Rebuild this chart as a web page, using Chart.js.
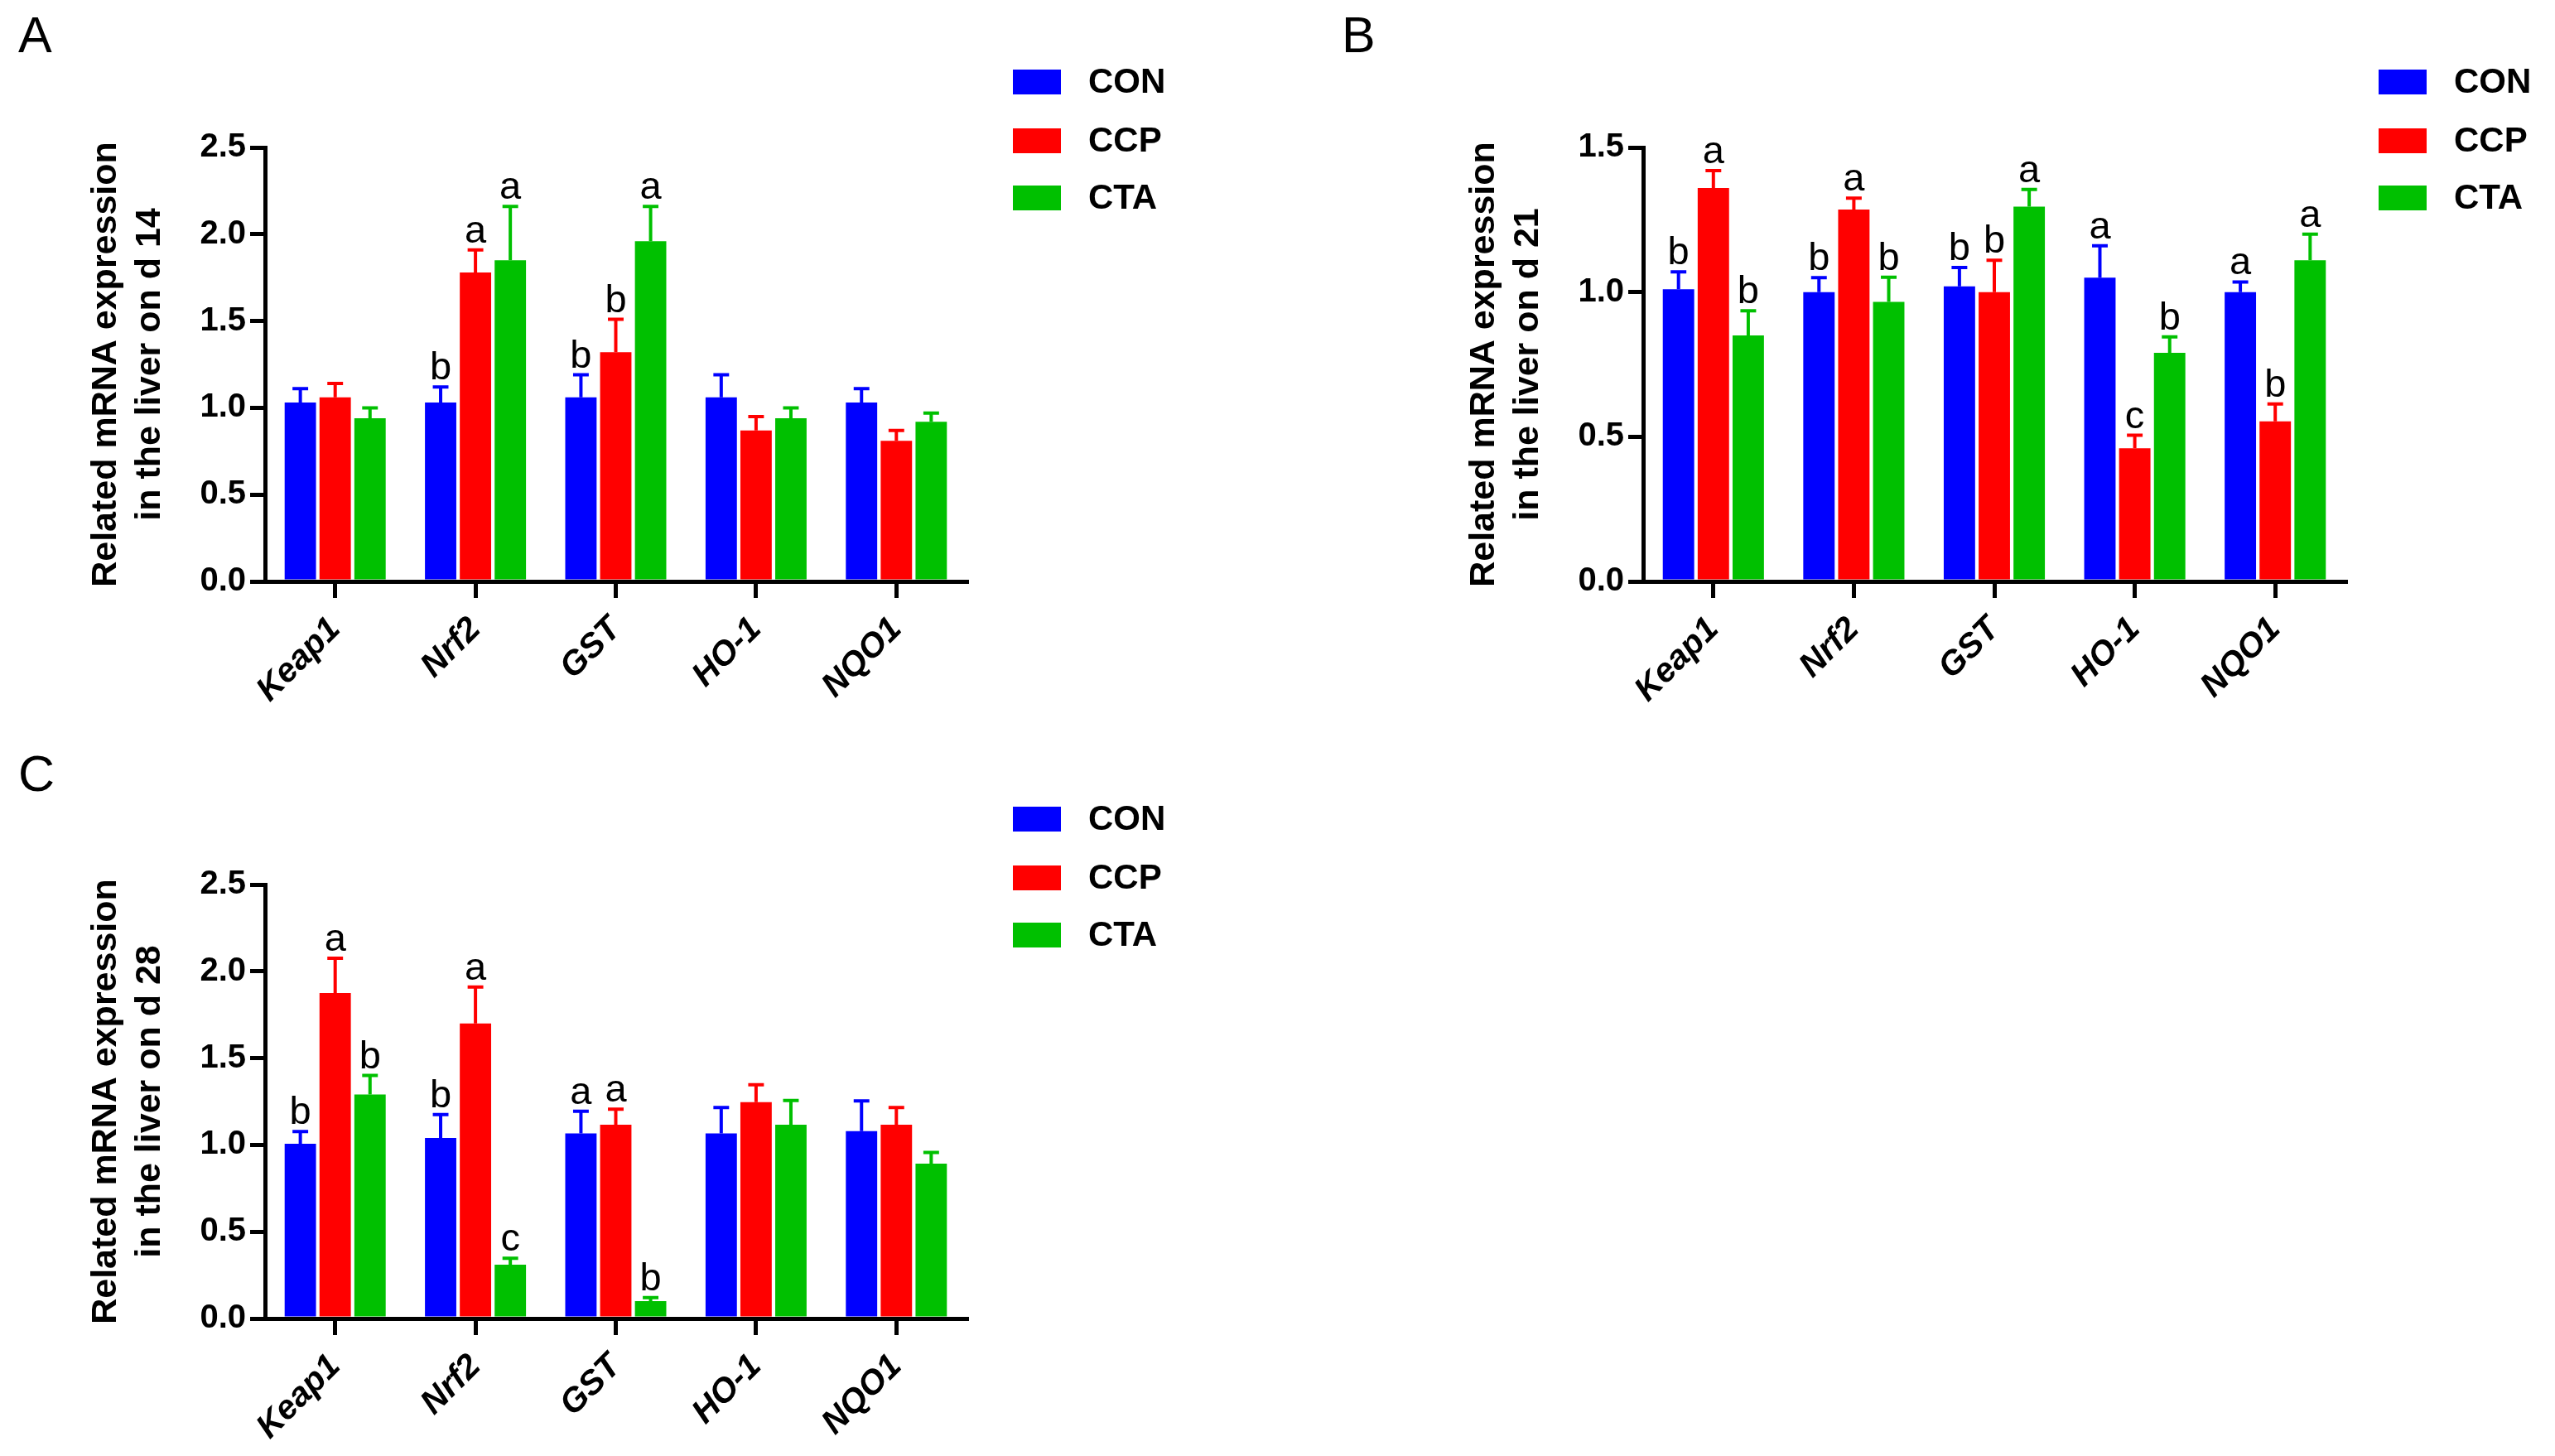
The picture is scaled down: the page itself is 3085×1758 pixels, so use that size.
<!DOCTYPE html>
<html>
<head>
<meta charset="utf-8">
<script src="https://cdn.jsdelivr.net/npm/chart.js@4/dist/chart.umd.min.js"></script>
<style>
html,body{margin:0;padding:0;background:#fff;}
body{width:3085px;height:1758px;position:relative;overflow:hidden;}
canvas{position:absolute;}
.tag{position:absolute;font-family:'Liberation Sans',Arial,sans-serif;font-size:61px;line-height:1;color:#000;}
</style>
</head>
<body>
<div class="tag" style="left:22px;top:12px">A</div>
<div class="tag" style="left:1620px;top:12px">B</div>
<div class="tag" style="left:22px;top:904px">C</div>
<canvas id="chartA" width="1540" height="880" style="left:0;top:0"></canvas>
<canvas id="chartB" width="1540" height="880" style="left:1545px;top:0"></canvas>
<canvas id="chartC" width="1540" height="878" style="left:0;top:880px"></canvas>
<script>
// genes and groups
const genes = ['Keap1', 'Nrf2', 'GST', 'HO-1', 'NQO1'];
const groups = ['CON', 'CCP', 'CTA'];
const colors = ['#0000FF', '#FF0000', '#00C000'];

// d 14
const d14Con = [1.03, 1.03, 1.06, 1.06, 1.03];
const d14Ccp = [1.06, 1.78, 1.32, 0.87, 0.81];
const d14Cta = [0.94, 1.85, 1.96, 0.94, 0.92];
const d14ConErr = [0.08, 0.09, 0.13, 0.13, 0.08];
const d14CcpErr = [0.08, 0.13, 0.19, 0.08, 0.06];
const d14CtaErr = [0.06, 0.31, 0.20, 0.06, 0.05];
const d14ConSig = ['', 'b', 'b', '', ''];
const d14CcpSig = ['', 'a', 'b', '', ''];
const d14CtaSig = ['', 'a', 'a', '', ''];

// d 21
const d21Con = [1.01, 1.00, 1.02, 1.05, 1.00];
const d21Ccp = [1.36, 1.285, 1.00, 0.46, 0.553];
const d21Cta = [0.85, 0.966, 1.295, 0.79, 1.11];
const d21ConErr = [0.06, 0.05, 0.065, 0.11, 0.035];
const d21CcpErr = [0.06, 0.04, 0.11, 0.045, 0.06];
const d21CtaErr = [0.085, 0.085, 0.06, 0.055, 0.09];
const d21ConSig = ['b', 'b', 'b', 'a', 'a'];
const d21CcpSig = ['a', 'a', 'b', 'c', 'b'];
const d21CtaSig = ['b', 'b', 'a', 'b', 'a'];

// d 28
const d28Con = [1.007, 1.04, 1.066, 1.066, 1.079];
const d28Ccp = [1.875, 1.70, 1.116, 1.247, 1.116];
const d28Cta = [1.29, 0.31, 0.10, 1.116, 0.892];
const d28ConErr = [0.07, 0.135, 0.128, 0.15, 0.175];
const d28CcpErr = [0.20, 0.21, 0.09, 0.10, 0.10];
const d28CtaErr = [0.11, 0.037, 0.02, 0.14, 0.065];
const d28ConSig = ['b', 'b', 'a', '', ''];
const d28CcpSig = ['a', 'a', 'a', '', ''];
const d28CtaSig = ['b', 'c', 'b', '', ''];

const FONT = "'Liberation Sans', Arial, sans-serif";

// error bars, letters and legend
const extras = {
    id: 'extras',
    afterDatasetsDraw(chart) {
        const ctx = chart.ctx;
        const y = chart.scales.y;
        chart.data.datasets.forEach((ds, i) => {
            const meta = chart.getDatasetMeta(i);
            meta.data.forEach((bar, j) => {
                const top = y.getPixelForValue(ds.data[j] + ds.errs[j]);
                const cap = bar.width * 0.25;
                ctx.save();
                ctx.strokeStyle = ds.backgroundColor;
                ctx.lineWidth = 4;
                ctx.beginPath();
                ctx.moveTo(bar.x, bar.y);
                ctx.lineTo(bar.x, top);
                ctx.moveTo(bar.x - cap, top);
                ctx.lineTo(bar.x + cap, top);
                ctx.stroke();
                if (ds.sig[j]) {
                    ctx.fillStyle = '#000';
                    ctx.font = '47px ' + FONT;
                    ctx.textAlign = 'center';
                    ctx.textBaseline = 'alphabetic';
                    ctx.fillText(ds.sig[j], bar.x, top - 9);
                }
                ctx.restore();
            });
        });
    },
    afterDraw(chart) {
        const ctx = chart.ctx;
        const area = chart.chartArea;
        const rows = [-79, -8, 61];
        const x0 = area.right + chart.options.plugins.extras.dx;
        chart.data.datasets.forEach((ds, i) => {
            const cy = area.top + rows[i];
            ctx.save();
            ctx.fillStyle = ds.backgroundColor;
            ctx.fillRect(x0, cy - 15, 58, 30);
            ctx.fillStyle = '#000';
            ctx.font = 'bold 42px ' + FONT;
            ctx.textAlign = 'left';
            ctx.textBaseline = 'middle';
            ctx.fillText(ds.label, x0 + 91, cy + 1);
            ctx.restore();
        });
    }
};

function makePanel(id, day, ymax, vals, errs, sigs, pad, legendDx) {
    const ctx = document.getElementById(id).getContext('2d');
    return new Chart(ctx, {
        type: 'bar',
        data: {
            labels: genes,
            datasets: groups.map((g, i) => ({
                label: g,
                data: vals[i],
                errs: errs[i],
                sig: sigs[i],
                backgroundColor: colors[i],
                barPercentage: 0.9,
                categoryPercentage: 0.745
            }))
        },
        options: {
            responsive: false,
            animation: false,
            devicePixelRatio: 1,
            layout: { padding: pad },
            plugins: {
                legend: { display: false },
                tooltip: { enabled: false },
                extras: { dx: legendDx }
            },
            scales: {
                x: {
                    afterFit: s => { s.height = pad.xh; },
                    border: { display: true, color: '#000', width: 5 },
                    grid: { drawOnChartArea: false, offset: false, color: '#000', lineWidth: 5, tickLength: 20 },
                    ticks: {
                        color: '#000',
                        font: { family: FONT, size: 41, weight: 'bold', style: 'italic' },
                        minRotation: 45, maxRotation: 45, padding: 14
                    }
                },
                y: {
                    min: 0, max: ymax,
                    afterFit: s => { s.width = 218; },
                    border: { display: true, color: '#000', width: 5 },
                    grid: { drawOnChartArea: false, color: '#000', lineWidth: 5, tickLength: 18 },
                    ticks: {
                        stepSize: 0.5,
                        color: '#000',
                        padding: 5,
                        font: { family: FONT, size: 40, weight: 'bold' },
                        callback: v => v.toFixed(1)
                    },
                    title: {
                        display: true,
                        text: ['Related mRNA expression', 'in the liver on d ' + day],
                        color: '#000',
                        padding: 0,
                        font: { family: FONT, size: 43, weight: 'bold', lineHeight: 1.23 }
                    }
                }
            }
        },
        plugins: [extras]
    });
}

makePanel('chartA', 14, 2.5,
    [d14Con, d14Ccp, d14Cta], [d14ConErr, d14CcpErr, d14CtaErr], [d14ConSig, d14CcpSig, d14CtaSig],
    { left: 102, top: 178, right: 373, bottom: 0, xh: 178 }, 56);
makePanel('chartB', 21, 1.5,
    [d21Con, d21Ccp, d21Cta], [d21ConErr, d21CcpErr, d21CtaErr], [d21ConSig, d21CcpSig, d21CtaSig],
    { left: 221, top: 178, right: 253, bottom: 0, xh: 178 }, 40);
makePanel('chartC', 28, 2.5,
    [d28Con, d28Ccp, d28Cta], [d28ConErr, d28CcpErr, d28CtaErr], [d28ConSig, d28CcpSig, d28CtaSig],
    { left: 102, top: 188, right: 373, bottom: 0, xh: 166 }, 56);
</script>
</body>
</html>
